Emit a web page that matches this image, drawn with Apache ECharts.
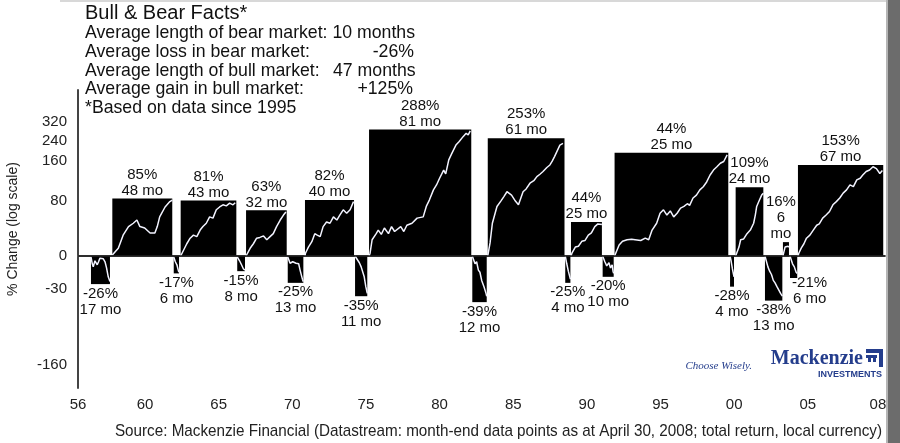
<!DOCTYPE html>
<html>
<head>
<meta charset="utf-8">
<title>Bull &amp; Bear Facts</title>
<script src="https://cdn.jsdelivr.net/npm/echarts@6/dist/echarts.min.js"></script>
<style>
    html, body { margin: 0; padding: 0; background: #fff; }
    #main { width: 900px; height: 443px; }
</style>
</head>
<body>
<div id="main"></div>
<script>
// bull / bear periods in order, start and end
var periodStart = [1956.33, 1957.78, 1961.95, 1962.42, 1966.26, 1966.86, 1969.69, 1970.86, 1974.26, 1975.21, 1982.22,
    1983.27, 1988.53, 1988.92, 1991.07, 1991.88, 1999.72, 2000.10, 2002.09, 2003.31, 2003.79, 2004.33];
var periodEnd = [1957.62, 1961.85, 1962.31, 1966.20, 1966.79, 1969.62, 1970.75, 1974.19, 1975.09, 1982.15, 1983.20,
    1988.48, 1988.88, 1991.02, 1991.82, 1999.60, 1999.99, 2001.98, 2003.27, 2003.72, 2004.28, 2010.12];
// bar height, % change
var periodPct = [-26, 85, -17, 81, -15, 63, -25, 82, -35, 288, -39, 253, -25, 44, -20, 202, -28, 109, -38, 16, -21, 165];
var pctLabels = ['-26%', '85%', '-17%', '81%', '-15%', '63%', '-25%', '82%', '-35%', '288%', '-39%', '253%', '-25%', '44%',
    '-20%', '44%', '-28%', '109%', '-38%', '16%', '-21%', '153%'];
var monthLabels = ['17 mo', '48 mo', '6 mo', '43 mo', '8 mo', '32 mo', '13 mo', '40 mo', '11 mo', '81 mo', '12 mo', '61 mo',
    '4 mo', '25 mo', '10 mo', '25 mo', '4 mo', '24 mo', '13 mo', '6\nmo', '6 mo', '67 mo'];
// index line inside each bar: [fraction of the period, % change]
var traces = [
    [[0, -1], [0.07, -8], [0.12, -11], [0.21, -5], [0.26, -4], [0.33, -9], [0.40, -6], [0.47, -2.5], [0.56, -1], [0.65, -3], [0.74, -6], [0.82, -12], [0.91, -20], [1, -24]],
    [[0, 1], [0.10, 8.6], [0.18, 25], [0.27, 37], [0.35, 42], [0.41, 47], [0.46, 37], [0.54, 35], [0.63, 28], [0.71, 28], [0.75, 37], [0.79, 52], [0.88, 69], [0.96, 79], [1, 82]],
    [[0, -1], [0.3, -6], [0.6, -9], [0.9, -15], [1, -16]],
    [[0, 0], [0.02, 1], [0.11, 14], [0.17, 21], [0.23, 25], [0.29, 23], [0.35, 32], [0.40, 37], [0.46, 42], [0.52, 52], [0.58, 50], [0.64, 64], [0.70, 69], [0.76, 73], [0.82, 71], [0.88, 76], [0.94, 73], [0.98, 77]],
    [[0, -1], [0.3, -5], [0.55, -9], [0.8, -13], [1, -14]],
    [[0, 0], [0.02, 1], [0.10, 8.6], [0.18, 14], [0.26, 21], [0.34, 22], [0.43, 24], [0.51, 19], [0.59, 23], [0.67, 27], [0.75, 37], [0.84, 47], [0.92, 55], [0.98, 60]],
    [[0, -1], [0.04, 0], [0.15, -7.5], [0.32, -6], [0.53, -7.5], [0.70, -8], [0.79, -14], [0.94, -22], [1, -24]],
    [[0, 0], [0.01, 3], [0.07, 10], [0.14, 16.6], [0.20, 27], [0.25, 25], [0.31, 23], [0.37, 37], [0.44, 44], [0.51, 42], [0.58, 52], [0.65, 47], [0.71, 55], [0.78, 64], [0.85, 58], [0.92, 64], [0.99, 79]],
    [[0, 0], [0.35, -7], [0.5, -11], [0.75, -20], [0.88, -28], [1, -33]],
    [[0, 0], [0.01, 3], [0.03, 19], [0.07, 27], [0.09, 32], [0.12, 26], [0.15, 35], [0.19, 27], [0.22, 37], [0.25, 30], [0.31, 37], [0.34, 30], [0.37, 39], [0.42, 42], [0.47, 50], [0.53, 52], [0.56, 70], [0.59, 82], [0.63, 103], [0.66, 114], [0.69, 130], [0.73, 151], [0.75, 141], [0.78, 180], [0.81, 200], [0.85, 228], [0.88, 240], [0.92, 259], [0.95, 272], [0.97, 266], [0.99, 282]],
    [[0, 0], [0.07, 0], [0.19, -8], [0.30, -6], [0.42, -14], [0.53, -16], [0.65, -23], [0.81, -28], [0.95, -33], [1, -35]],
    [[0, 0], [0.01, 2], [0.03, 15], [0.06, 42], [0.12, 70], [0.17, 80], [0.21, 89], [0.25, 99], [0.31, 92], [0.36, 80], [0.40, 73], [0.46, 99], [0.50, 105], [0.55, 118], [0.60, 124], [0.64, 134], [0.68, 140], [0.72, 147], [0.77, 158], [0.81, 165], [0.84, 176], [0.87, 190], [0.94, 228], [0.98, 234]],
    [[0, 0], [0.3, -8], [0.6, -15], [1, -22]],
    [[0, 0], [0.03, 3], [0.14, 10], [0.24, 11], [0.35, 17], [0.45, 18], [0.56, 25], [0.66, 28], [0.77, 37], [0.87, 41], [1, 40]],
    [[0, 0], [0.09, 0], [0.2, -6], [0.37, -10], [0.57, -7], [0.71, -12], [0.86, -9], [0.94, -15], [1, -17]],
    [[0, 0], [0.01, 3], [0.04, 12.5], [0.07, 17], [0.11, 19], [0.15, 19.6], [0.18, 19], [0.23, 18], [0.27, 21], [0.30, 19], [0.33, 32], [0.37, 42], [0.40, 58], [0.43, 64], [0.46, 55], [0.49, 62], [0.52, 52], [0.55, 58], [0.58, 67], [0.61, 70], [0.64, 75], [0.66, 72], [0.69, 86], [0.72, 92], [0.75, 103], [0.78, 110], [0.81, 121], [0.84, 138], [0.87, 151], [0.90, 160], [0.93, 170], [0.96, 175], [0.97, 170], [0.99, 195]],
    [[0, 0], [0.3, -6], [0.6, -13], [1, -20]],
    [[0, 0], [0.04, 1], [0.12, 10], [0.18, 19], [0.29, 20], [0.41, 27], [0.53, 32], [0.65, 42], [0.71, 55], [0.76, 70], [0.86, 82], [0.94, 92], [1, 96]],
    [[0, 0], [0.06, -2], [0.17, -11], [0.27, -15], [0.375, -18], [0.48, -23], [0.58, -25], [0.69, -28], [0.79, -29], [0.90, -33], [1, -35]],
    [[0, 0], [0.1, 1], [0.35, 10], [0.6, 12], [0.85, 11], [1, 10]],
    [[0, 0], [0.1, 0], [0.35, -8], [0.6, -11], [0.85, -16], [1, -17]],
    [[0, 0], [0.01, 3], [0.04, 9], [0.07, 14], [0.10, 21], [0.14, 25], [0.18, 32], [0.22, 39], [0.25, 41], [0.29, 50], [0.33, 55], [0.37, 61], [0.41, 73], [0.45, 79], [0.49, 86], [0.53, 96], [0.57, 103], [0.61, 114], [0.65, 110], [0.69, 126], [0.73, 130], [0.76, 138], [0.80, 147], [0.84, 151], [0.88, 160], [0.92, 155], [0.96, 142], [0.99, 150]]
];
var xTickYears = [1955.45, 1960, 1965, 1970, 1975, 1980, 1985, 1990, 1995, 2000, 2005, 2009.76];
var xTickLabels = ['56', '60', '65', '70', '75', '80', '85', '90', '95', '00', '05', '08'];
// y axis is log10(1 + change)
var yTickVals = [0.623, 0.536, 0.443, 0.255, 0, -0.155, -0.507];
var yTickLabels = ['320', '240', '160', '80', '0', '-30', '-160'];

var factLines = ['Average length of bear market: 10 months', 'Average loss in bear market:', 'Average length of bull market:',
    'Average gain in bull market:', '*Based on data since 1995'];
var factValues = ['', '-26%', '47 months', '+125%', ''];

function lg(p) { return Math.log10(1 + p / 100); }

// small nudges for the two labels that sit off-centre
var labelShift = [];
for (var k = 0; k < periodPct.length; k++) labelShift.push([0, 0]);
labelShift[19] = [-5, 0];
labelShift[20] = [16, -5];

var chartDom = document.getElementById('main');
var myChart = echarts.init(chartDom);

var barData = periodPct.map(function (p, i) { return [periodStart[i], periodEnd[i], lg(p)]; });
var labelData = periodPct.map(function (p, i) { return [(periodStart[i] + periodEnd[i]) / 2, lg(p)]; });

var lineSeries = traces.map(function (tr, i) {
    var len = periodEnd[i] - periodStart[i];
    return {
        type: 'line',
        z: 3,
        silent: true,
        showSymbol: false,
        symbol: 'none',
        lineStyle: { color: '#f2f3ff', width: 1.5 },
        data: tr.map(function (d) { return [periodStart[i] + d[0] * len, lg(d[1])]; })
    };
});

var FONT = '"Liberation Sans", Arial, sans-serif';
var graphics = [
    { type: 'rect', shape: { x: 60, y: 0, width: 828, height: 2 }, style: { fill: '#d8d8d8' } },
    { type: 'rect', shape: { x: 887, y: 0, width: 13, height: 443 }, style: { fill: '#6c6c6c' } },
    { type: 'rect', shape: { x: 886, y: 0, width: 2, height: 443 }, style: { fill: '#b5b5b5' } },
    { type: 'text', x: 85, y: 13, style: { text: 'Bull & Bear Facts*', font: '20px ' + FONT, fill: '#111', align: 'left', verticalAlign: 'middle' } },
    { type: 'text', x: 13, y: 229, rotation: Math.PI / 2, style: { text: '% Change (log scale)', font: '14px ' + FONT, fill: '#222', align: 'center', verticalAlign: 'middle' } },
    // condensed source line: the sans face squeezed sideways
    { type: 'text', x: 882, y: 431, scaleX: 0.896, style: { text: 'Source: Mackenzie Financial (Datastream: month-end data points as at April 30, 2008; total return, local currency)', font: '17px ' + FONT, fill: '#222', align: 'right', verticalAlign: 'middle' } },
    // logo
    { type: 'text', x: 752, y: 366, style: { text: 'Choose Wisely.', font: 'italic 11px "Liberation Serif", serif', fill: '#243d8c', align: 'right', verticalAlign: 'middle' } },
    { type: 'text', x: 863, y: 359, style: { text: 'Mackenzie', font: 'bold 20px "Liberation Serif", serif', fill: '#243d8c', align: 'right', verticalAlign: 'middle' } },
    { type: 'text', x: 882, y: 375, style: { text: 'INVESTMENTS', font: 'bold 9px ' + FONT, fill: '#243d8c', align: 'right', verticalAlign: 'middle' } },
    { type: 'rect', shape: { x: 866, y: 349, width: 17, height: 4 }, style: { fill: '#243d8c' } },
    { type: 'rect', shape: { x: 879, y: 349, width: 4, height: 18 }, style: { fill: '#243d8c' } },
    { type: 'rect', shape: { x: 866, y: 355, width: 11, height: 3 }, style: { fill: '#243d8c' } },
    { type: 'rect', shape: { x: 868, y: 358, width: 3, height: 4 }, style: { fill: '#243d8c' } },
    { type: 'rect', shape: { x: 873, y: 358, width: 3, height: 4 }, style: { fill: '#243d8c' } }
];
var factY = [33, 52, 71, 89.5, 108];
var factFont = '17.7px ' + FONT;
factLines.forEach(function (t, i) {
    graphics.push({ type: 'text', x: 85, y: factY[i], style: { text: t, font: factFont, fill: '#111', align: 'left', verticalAlign: 'middle' } });
});
graphics.push({ type: 'text', x: 414, y: factY[1], style: { text: factValues[1], font: factFont, fill: '#111', align: 'right', verticalAlign: 'middle' } });
graphics.push({ type: 'text', x: 333, y: factY[2], style: { text: factValues[2], font: factFont, fill: '#111', align: 'left', verticalAlign: 'middle' } });
graphics.push({ type: 'text', x: 413, y: factY[3], style: { text: factValues[3], font: factFont, fill: '#111', align: 'right', verticalAlign: 'middle' } });

var option = {
    animation: false,
    backgroundColor: '#fff',
    grid: { left: 78, right: 15, top: 90, bottom: 55 },
    xAxis: {
        type: 'value',
        min: 1955.45,
        max: 2010.24,
        splitLine: { show: false },
        axisTick: { show: false },
        axisLine: { show: true, lineStyle: { color: '#555', width: 2 } },
        axisLabel: {
            customValues: xTickYears,
            margin: 9,
            color: '#222',
            fontSize: 15,
            fontFamily: 'Liberation Sans',
            formatter: function (v) {
                var best = 0;
                for (var i = 1; i < xTickYears.length; i++) {
                    if (Math.abs(xTickYears[i] - v) < Math.abs(xTickYears[best] - v)) best = i;
                }
                return xTickLabels[best];
            }
        }
    },
    yAxis: {
        type: 'value',
        min: -0.614,
        max: 0.772,
        splitLine: { show: false },
        axisTick: { show: false },
        axisLine: { show: true, lineStyle: { color: '#444', width: 2 } },
        axisLabel: {
            customValues: yTickVals,
            margin: 11,
            color: '#222',
            fontSize: 15,
            fontFamily: 'Liberation Sans',
            formatter: function (v) {
                var best = 0;
                for (var i = 1; i < yTickVals.length; i++) {
                    if (Math.abs(yTickVals[i] - v) < Math.abs(yTickVals[best] - v)) best = i;
                }
                return yTickLabels[best];
            }
        }
    },
    graphic: graphics,
    series: [
        {
            type: 'custom',
            z: 1,
            silent: true,
            data: barData,
            renderItem: function (params, api) {
                var a = api.coord([api.value(0), 0]);
                var b = api.coord([api.value(1), api.value(2)]);
                return {
                    type: 'rect',
                    shape: { x: a[0], y: Math.min(a[1], b[1]), width: b[0] - a[0], height: Math.abs(b[1] - a[1]) },
                    style: { fill: '#000' }
                };
            },
            markLine: {
                silent: true,
                symbol: 'none',
                label: { show: false },
                lineStyle: { color: '#222', width: 1.5, type: 'solid' },
                data: [{ yAxis: 0 }]
            }
        },
        {
            type: 'custom',
            z: 5,
            silent: true,
            data: labelData,
            renderItem: function (params, api) {
                var i = params.dataIndex;
                var up = periodPct[i] > 0;
                var p = api.coord([api.value(0), api.value(1)]);
                return {
                    type: 'text',
                    x: p[0] + labelShift[i][0],
                    y: p[1] + (up ? 0 : 1.5) + labelShift[i][1],
                    style: {
                        text: pctLabels[i] + '\n' + monthLabels[i],
                        font: '15px "Liberation Sans"',
                        fill: '#111',
                        align: 'center',
                        verticalAlign: up ? 'bottom' : 'top',
                        lineHeight: 16
                    }
                };
            }
        }
    ].concat(lineSeries)
};

option && myChart.setOption(option);
</script>
</body>
</html>
